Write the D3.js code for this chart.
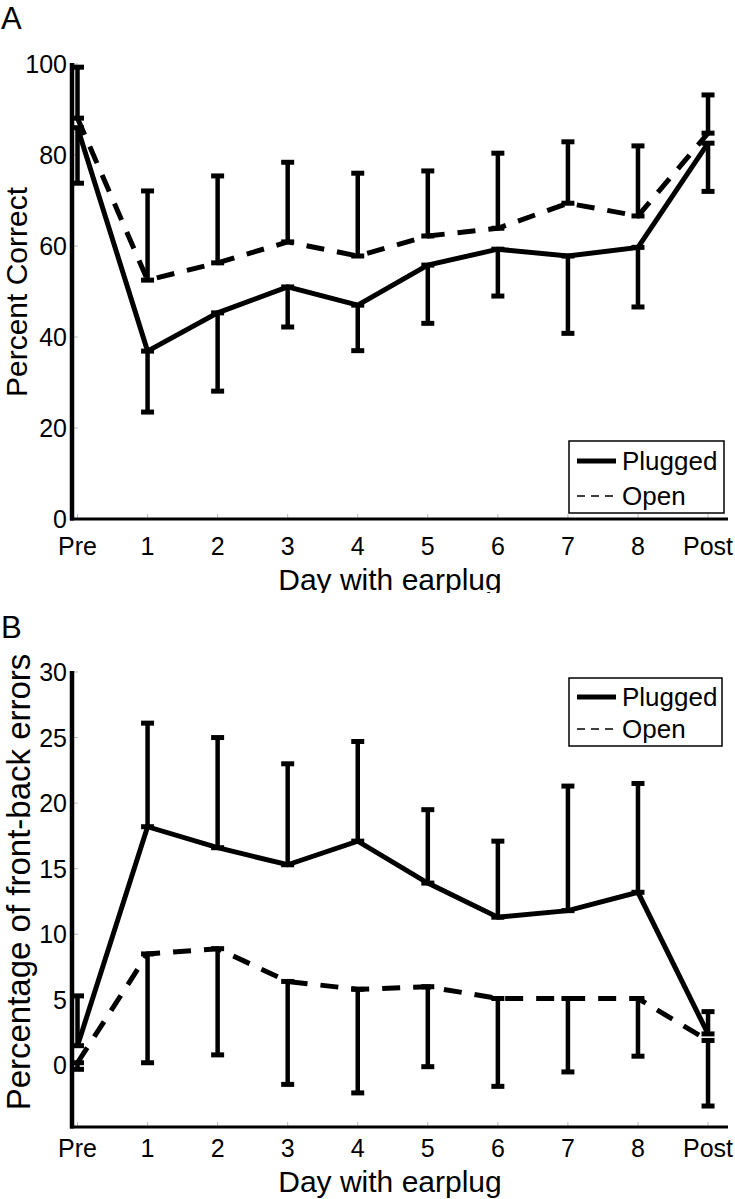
<!DOCTYPE html>
<html>
<head>
<meta charset="utf-8">
<script src="https://cdn.jsdelivr.net/npm/d3@7/dist/d3.min.js"></script>
<style>
  html, body { margin: 0; padding: 0; background: #fff; }
  svg { display: block; }
  text { font-family: "Liberation Sans", Arial, Helvetica, sans-serif; fill: #000; }
</style>
</head>
<body>
<svg id="chart" width="735" height="1199"></svg>
<script>
// ---------- data ----------
const days = ["Pre", "1", "2", "3", "4", "5", "6", "7", "8", "Post"];

// Panel A: percent correct
const plugA    = [86.0, 36.9, 45.3, 51.0, 47.0, 55.8, 59.3, 57.8, 59.7, 82.6];
const plugAErr = [12.2, 13.4, 17.2, 8.8, 10.0, 12.8, 10.3, 17.0, 13.1, 10.6]; // drawn downward
const openA    = [88.1, 52.5, 56.3, 60.9, 57.8, 62.2, 63.9, 69.4, 66.6, 84.8];
const openAErr = [11.2, 19.6, 19.1, 17.5, 18.2, 14.3, 16.5, 13.5, 15.4, 8.4];  // drawn upward
const ticksA   = [0, 20, 40, 60, 80, 100];

// Panel B: percentage of front-back errors
const plugB    = [1.5, 18.2, 16.6, 15.3, 17.1, 13.9, 11.3, 11.8, 13.2, 2.4];
const plugBErr = [3.8, 7.9, 8.4, 7.7, 7.6, 5.6, 5.8, 9.5, 8.3, 1.7];   // drawn upward
const openB    = [0.2, 8.5, 8.9, 6.4, 5.8, 6.0, 5.1, 5.1, 5.1, 1.9];
const openBErr = [0.5, 8.3, 8.1, 7.85, 7.9, 6.1, 6.7, 5.6, 4.4, 5.0];  // drawn downward
const ticksB   = [0, 5, 10, 15, 20, 25, 30];

const seriesNames = ["Plugged", "Open"];

// ---------- drawing ----------
const svg = d3.select("#chart");

const x = d3.scaleLinear().domain([-0.1, 9.285]).range([70.5, 728]);

function panel(cfg) {
  const g = svg.append("g");
  if (cfg.clipBottom) {
    const id = "clip" + cfg.letter;
    svg.append("clipPath").attr("id", id)
      .append("rect").attr("x", 0).attr("y", cfg.clipTop).attr("width", 735).attr("height", cfg.clipBottom - cfg.clipTop);
    g.attr("clip-path", `url(#${id})`);
  }
  const y = d3.scaleLinear().domain(cfg.yDomain).range(cfg.yRange);
  const y0 = cfg.yRange[0], y1 = cfg.yRange[1];

  // faint ticks (inside)
  g.selectAll(".xt").data(days).enter().append("line")
    .attr("x1", (d, i) => x(i)).attr("x2", (d, i) => x(i))
    .attr("y1", y0).attr("y2", y0 - 5)
    .attr("stroke", "#bbb").attr("stroke-width", 1);
  g.selectAll(".yt").data(cfg.ticks).enter().append("line")
    .attr("x1", 72).attr("x2", 78)
    .attr("y1", d => y(d)).attr("y2", d => y(d))
    .attr("stroke", "#bbb").attr("stroke-width", 1);

  // axes lines
  g.append("line").attr("x1", 70).attr("x2", x.range()[1]).attr("y1", y0).attr("y2", y0)
    .attr("stroke", "#000").attr("stroke-width", 3.2);
  g.append("line").attr("x1", 72).attr("x2", 72).attr("y1", y1 - 1).attr("y2", y0 + 1.5)
    .attr("stroke", "#000").attr("stroke-width", 4.5);

  // tick labels
  g.selectAll(".xl").data(days).enter().append("text")
    .attr("x", (d, i) => x(i)).attr("y", cfg.xLabelY)
    .attr("text-anchor", "middle").attr("font-size", 25).text(d => d);
  g.selectAll(".yl").data(cfg.ticks).enter().append("text")
    .attr("x", 67).attr("y", d => y(d)).attr("dy", "0.36em")
    .attr("text-anchor", "end").attr("font-size", 25).text(d => d);

  // axis titles
  g.append("text").attr("x", 390).attr("y", cfg.xTitleY)
    .attr("text-anchor", "middle").attr("font-size", 30).text("Day with earplug");
  g.append("text")
    .attr("transform", `translate(${cfg.yTitleX},${cfg.yTitleY}) rotate(-90)`)
    .attr("text-anchor", "middle").attr("font-size", cfg.yTitleSize).text(cfg.yTitle);

  // panel letter
  g.append("text").attr("x", 1).attr("y", cfg.letterY).attr("font-size", 31).text(cfg.letter);

  // error bars
  function errorbars(vals, errs, dir) {
    const eg = g.append("g");
    vals.forEach((v, i) => {
      const end = v + dir * errs[i];
      const xi = x(i);
      eg.append("line").attr("x1", xi).attr("x2", xi).attr("y1", y(v)).attr("y2", y(end))
        .attr("stroke", "#000").attr("stroke-width", 4.5);
      [v, end].forEach(t => {
        eg.append("line").attr("x1", xi - 6.5).attr("x2", xi + 6.5).attr("y1", y(t)).attr("y2", y(t))
          .attr("stroke", "#000").attr("stroke-width", 5);
      });
    });
  }
  errorbars(cfg.open, cfg.openErr, cfg.openDir);
  errorbars(cfg.plug, cfg.plugErr, cfg.plugDir);

  const line = d3.line().x((d, i) => x(i)).y(d => y(d));
  g.append("path").datum(cfg.open).attr("d", line)
    .attr("fill", "none").attr("stroke", "#000").attr("stroke-width", 5)
    .attr("stroke-dasharray", "18,13");
  g.append("path").datum(cfg.plug).attr("d", line)
    .attr("fill", "none").attr("stroke", "#000").attr("stroke-width", 5)
    .attr("stroke-linejoin", "miter");

  // legend
  const L = cfg.legend;
  const lg = g.append("g");
  lg.append("rect").attr("x", L.x).attr("y", L.y).attr("width", L.w).attr("height", L.h)
    .attr("fill", "#fff").attr("stroke", "#000").attr("stroke-width", 1.5);
  lg.append("line").attr("x1", L.x + 8).attr("x2", L.x + 47).attr("y1", L.r1).attr("y2", L.r1)
    .attr("stroke", "#000").attr("stroke-width", 5);
  lg.append("line").attr("x1", L.x + 8).attr("x2", L.x + 48).attr("y1", L.r2).attr("y2", L.r2)
    .attr("stroke", "#000").attr("stroke-width", 1.5).attr("stroke-dasharray", "8,6");
  lg.append("text").attr("x", L.x + 53).attr("y", L.r1).attr("dy", "0.36em").attr("font-size", 26).text(seriesNames[0]);
  lg.append("text").attr("x", L.x + 53).attr("y", L.r2).attr("dy", "0.36em").attr("font-size", 26).text(seriesNames[1]);
}

panel({
  letter: "A", letterY: 29,
  yDomain: [0, 100], yRange: [519, 64], ticks: ticksA,
  plug: plugA, plugErr: plugAErr, plugDir: -1,
  open: openA, openErr: openAErr, openDir: 1,
  xLabelY: 555, xTitleY: 590,
  yTitle: "Percent Correct", yTitleX: 27, yTitleY: 292, yTitleSize: 30,
  legend: { x: 569, y: 441, w: 155, h: 72, r1: 461, r2: 496 },
  clipTop: 0, clipBottom: 593
});

panel({
  letter: "B", letterY: 638,
  yDomain: [-4.7, 30], yRange: [1127, 672], ticks: ticksB,
  plug: plugB, plugErr: plugBErr, plugDir: 1,
  open: openB, openErr: openBErr, openDir: -1,
  xLabelY: 1157, xTitleY: 1192,
  yTitle: "Percentage of front-back errors", yTitleX: 30, yTitleY: 882, yTitleSize: 33,
  legend: { x: 569, y: 678, w: 153, h: 68, r1: 697, r2: 729 }
});
</script>
</body>
</html>
